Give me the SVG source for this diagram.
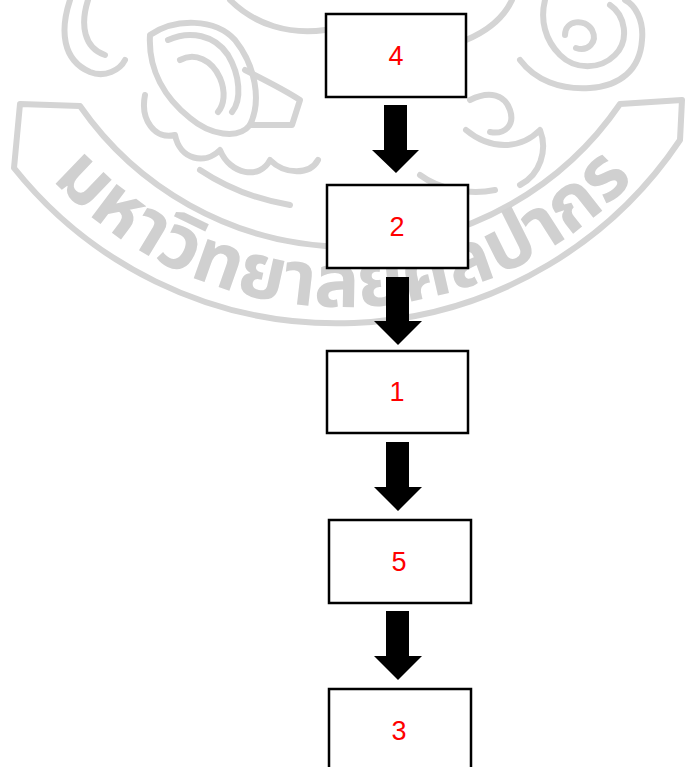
<svg xmlns="http://www.w3.org/2000/svg" width="686" height="767" viewBox="0 0 686 767">
<style>
.wm{fill:none;stroke:#d4d4d4;stroke-width:6;stroke-linecap:round;stroke-linejoin:round}
.wmt{fill:#d0d0d0;font-family:"Noto Sans Thai","Noto Sans","DejaVu Sans",sans-serif;font-size:76px;font-weight:bold}
.box{fill:#ffffff;stroke:#000000;stroke-width:2.5}
.lbl{fill:#ff0000;font-family:"Liberation Sans",Arial,sans-serif;font-size:27px;text-anchor:middle}
.arr{fill:#000000}
</style>
<defs>
<path id="arc" d="M -28.2 47.1 A 395 395 0 0 0 714.2 47.1"/>
</defs>
<g id="watermark">
<path class="wm" d="M 80 106 L 20 104 L 14 168 A 413 413 0 0 0 680 140 L 682 100 L 620 104 A 328 328 0 0 1 80 106 Z"/>
<text class="wmt"><textPath href="#arc" startOffset="50%" text-anchor="middle">มหาวิทยาลัยศิลปากร</textPath></text>
<path class="wm" d="M 70 0 C 60 30 62 60 90 72 C 105 78 120 70 125 60"/>
<path class="wm" d="M 88 0 C 80 25 84 48 105 55"/>
<path class="wm" d="M 150 35 C 175 18 215 18 235 40 C 255 65 262 100 250 125 C 238 140 210 135 190 118 C 165 98 148 70 150 35 Z"/>
<path class="wm" d="M 168 40 C 190 30 215 35 228 55 C 240 75 242 100 232 112"/>
<path class="wm" d="M 180 60 C 195 52 212 60 220 78 C 226 92 224 105 218 112"/>
<path class="wm" d="M 245 70 C 265 80 285 90 300 100 L 292 125 C 275 125 260 125 250 125"/>
<path class="wm" d="M 145 95 C 140 120 155 140 175 135 C 180 160 205 165 220 150 C 230 175 260 180 270 160 C 285 175 310 175 318 160"/>
<path class="wm" d="M 200 170 C 230 190 260 200 290 205"/>
<path class="wm" d="M 230 0 C 255 25 290 35 325 30"/>
<path class="wm" d="M 466 40 C 490 30 505 15 512 0"/>
<path class="wm" d="M 470 100 C 490 90 505 95 510 110 C 515 125 505 135 490 132"/>
<path class="wm" d="M 545 0 C 540 20 545 40 560 55 C 575 70 600 70 615 55 C 630 40 625 15 610 5"/>
<path class="wm" d="M 565 35 C 565 20 585 18 592 30 C 598 42 588 52 576 48"/>
<path class="wm" d="M 520 60 C 535 80 560 90 590 88 C 620 86 640 70 642 40 C 644 20 635 5 625 0"/>
<path class="wm" d="M 466 130 C 490 150 520 150 540 130 C 548 150 540 175 520 185"/>
<path class="wm" d="M 420 175 C 440 190 470 195 495 190"/>
</g>
<g id="connectors">
<polygon class="arr" points="384,105 407,105 407,150 419,150 396,173 372,150 384,150"/>
<polygon class="arr" points="386,277 409,277 409,321 422,321 398,345 374,321 386,321"/>
<polygon class="arr" points="386,442 409,442 409,487 422,487 398,511 374,487 386,487"/>
<polygon class="arr" points="386,611 409,611 409,656 422,656 398,680 374,656 386,656"/>
</g>
<g id="node4"><rect class="box" x="326" y="14" width="140" height="83"/><text class="lbl" x="396" y="65">4</text></g>
<g id="node2"><rect class="box" x="327" y="185" width="141" height="83"/><text class="lbl" x="397" y="236">2</text></g>
<g id="node1"><rect class="box" x="327" y="351" width="141" height="82"/><text class="lbl" x="397" y="401">1</text></g>
<g id="node5"><rect class="box" x="329" y="520" width="142" height="83"/><text class="lbl" x="399" y="571">5</text></g>
<g id="node3"><rect class="box" x="329" y="689" width="142" height="90"/><text class="lbl" x="399" y="740">3</text></g>
</svg>
